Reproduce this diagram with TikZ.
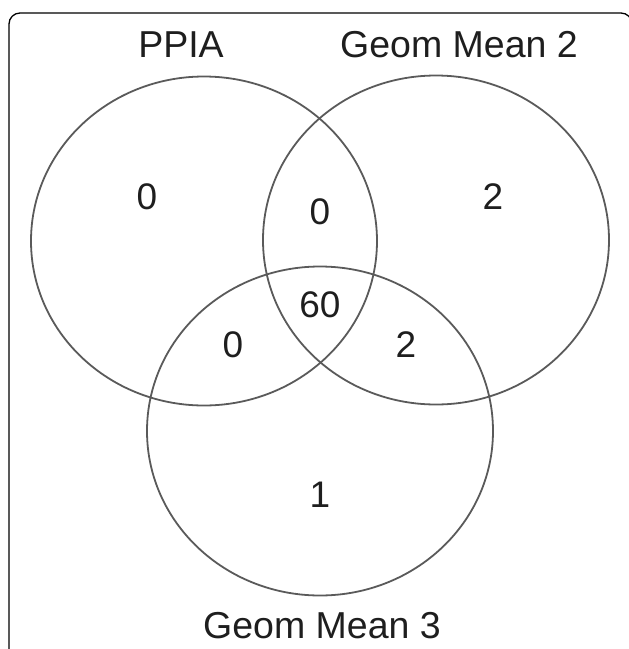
\documentclass[tikz,border=0pt]{standalone}
\usepackage{fontspec}
\setmainfont{Liberation Sans}
\usetikzlibrary{shapes.geometric}
\definecolor{ringgray}{HTML}{5A5A5A}
\definecolor{inkdark}{HTML}{1E1E1E}
\begin{document}
\begin{tikzpicture}[x=1pt,y=-1pt,
  ring/.style={ellipse,draw=ringgray,line width=1.8pt,inner sep=0pt,minimum width=346pt,minimum height=329pt},
  setlabel/.style={font=\fontsize{37.5}{38}\selectfont,text=inkdark,inner sep=0pt},
  count/.style={font=\fontsize{37}{37}\selectfont,text=inkdark,inner sep=0pt}]
\useasboundingbox (0,0) rectangle (629,649);
\draw[line width=1.3pt,rounded corners=11pt] (9,700) -- (9,13) -- (632,13) -- (632,700);
\node[ring] (ppia) at (204,241) {};
\node[ring] (gm2) at (436,240) {};
\node[ring] (gm3) at (320,431) {};
\node[setlabel] (lppia) at (181,45) {PPIA};
\node[setlabel] (lgm2) at (459,45) {Geom Mean 2};
\node[setlabel] (lgm3) at (322,626) {Geom Mean 3};
\node[count] (a) at (147,197) {0};
\node[count] (ab) at (320,212) {0};
\node[count] (b) at (493,197) {2};
\node[count] (abc) at (320,305) {60};
\node[count] (ac) at (233,345) {0};
\node[count] (bc) at (406,345) {2};
\node[count] (c) at (320,495) {1};
\end{tikzpicture}
\end{document}
